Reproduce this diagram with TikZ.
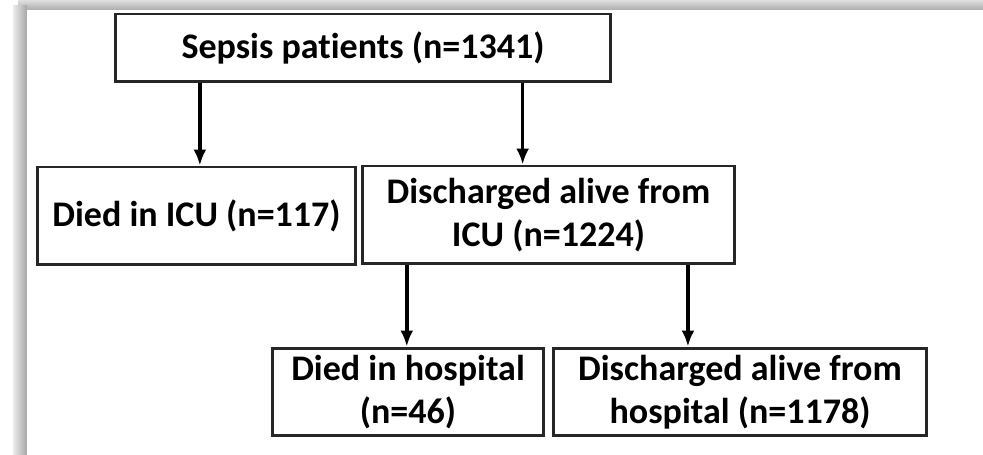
\documentclass[tikz,border=0pt]{standalone}
\usepackage{fontspec}
\setmainfont{Carlito}[Ligatures=NoCommon]
\usepackage{tikz}
\usetikzlibrary{arrows.meta,shadings}

\begin{document}
\begin{tikzpicture}[x=0.02cm,y=-0.02cm,
  box/.style={draw=black!85,line width=1.7pt,fill=white,inner sep=0pt,align=center,
    font=\fontsize{20.5}{24.5}\selectfont\bfseries},
  arr/.style={line width=2pt,-{Latex[length=0.32cm,width=0.26cm]}}]
\useasboundingbox (0,0) rectangle (983,455);
\shade[top color=gray!25,bottom color=gray!65] (18,0) rectangle (983,10);
\shade[left color=gray!15,right color=gray!70] (13,6) rectangle (27,455);
\fill[white] (27,10) rectangle (983,455);

\node[box,minimum width=9.92cm,minimum height=1.36cm] (top) at (363,48) {Sepsis patients (n=1341)};
\node[box,minimum width=6.38cm,minimum height=1.96cm] (diedicu) at (196.5,216) {Died in ICU (n=117)};
\node[box,minimum width=7.46cm,minimum height=1.96cm] (dischicu) at (548.5,215) {Discharged alive from\\ICU (n=1224)};
\node[box,minimum width=5.44cm,minimum height=1.76cm] (diedhosp) at (408,392) {Died in hospital\\(n=46)};
\node[box,minimum width=7.48cm,minimum height=1.76cm] (dischhosp) at (740,392) {Discharged alive from\\hospital (n=1178)};

\path (top.south west) -- (top.south east) coordinate[pos=0.173] (t1) coordinate[pos=0.82] (t2);
\path (dischicu.south west) -- (dischicu.south east) coordinate[pos=0.123] (d1) coordinate[pos=0.871] (d2);
\draw[arr] (t1) -- (t1 |- diedicu.north);
\draw[arr] (t2) -- (t2 |- dischicu.north);
\draw[arr] (d1) -- (d1 |- diedhosp.north);
\draw[arr] (d2) -- (d2 |- dischhosp.north);
\end{tikzpicture}
\end{document}
